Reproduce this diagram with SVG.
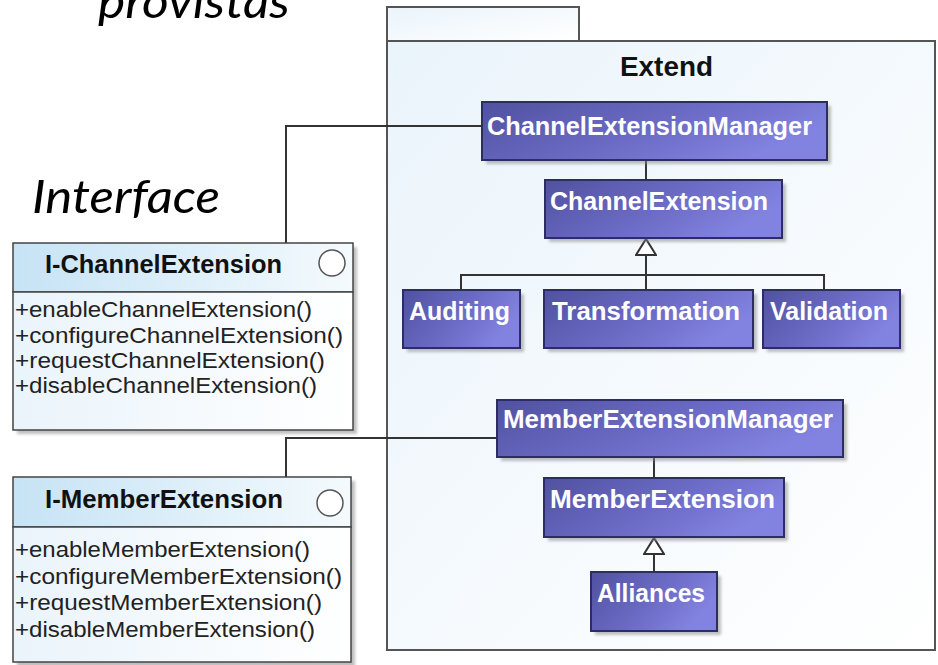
<svg xmlns="http://www.w3.org/2000/svg" width="938" height="665" viewBox="0 0 938 665">
  <defs>
    <linearGradient id="classFill" x1="0" y1="0" x2="1" y2="0.4">
      <stop offset="0" stop-color="#5151a0"/>
      <stop offset="0.55" stop-color="#6a6ac4"/>
      <stop offset="1" stop-color="#8282e0"/>
    </linearGradient>
    <linearGradient id="headFill" x1="0" y1="0" x2="1" y2="0">
      <stop offset="0" stop-color="#c6e3f5"/>
      <stop offset="1" stop-color="#f4fafd"/>
    </linearGradient>
    <linearGradient id="bodyFill" x1="0" y1="0" x2="1" y2="0">
      <stop offset="0" stop-color="#eaf4fb"/>
      <stop offset="1" stop-color="#ffffff"/>
    </linearGradient>
    <linearGradient id="pkgFill" x1="0" y1="0" x2="1" y2="1">
      <stop offset="0" stop-color="#eaf4fb"/>
      <stop offset="1" stop-color="#ffffff"/>
    </linearGradient>
    <filter id="soft" x="-10%" y="-10%" width="130%" height="140%">
      <feGaussianBlur stdDeviation="1.5"/>
    </filter>
    <marker id="gen" markerUnits="userSpaceOnUse" markerWidth="20" markerHeight="22" viewBox="-1 -1 20 22" refX="16" refY="10" orient="auto">
      <path d="M0,0 L16,10 L0,20 Z" fill="#ffffff" stroke="#333333" stroke-width="2"/>
    </marker>
  </defs>
  <style>
    .pkg { fill: url(#pkgFill); stroke: #555555; stroke-width: 2; }
    .shadow { fill: #8a8a8a; opacity: 0.55; filter: url(#soft); }
    .cls { fill: url(#classFill); stroke: #2d2d66; stroke-width: 2; }
    .cname { font-family: "Liberation Sans", Arial, sans-serif; font-weight: bold; font-size: 25px; fill: #ffffff; }
    .ihead { fill: url(#headFill); stroke: #444444; stroke-width: 1.5; }
    .ibody { fill: url(#bodyFill); stroke: #444444; stroke-width: 1.5; }
    .iname { font-family: "Liberation Sans", Arial, sans-serif; font-weight: bold; font-size: 25px; fill: #111111; }
    .op { font-family: "Liberation Sans", Arial, sans-serif; font-size: 22px; fill: #222222; }
    .ball { fill: #ffffff; stroke: #555555; stroke-width: 1.5; }
    .title { font-family: "Liberation Sans", Arial, sans-serif; font-weight: bold; font-size: 27px; fill: #111111; }
    .note { font-family: "Lato", "Open Sans", sans-serif; font-style: italic; font-size: 46px; fill: #000000; }
    .wire { fill: none; stroke: #333333; stroke-width: 2; }
  </style>

  <rect width="938" height="665" fill="#ffffff"/>

  <!-- captions -->
  <text class="note" x="98" y="18" textLength="192" lengthAdjust="spacingAndGlyphs">provistas</text>
  <text class="note" x="32" y="213" textLength="188" lengthAdjust="spacingAndGlyphs">Interface</text>

  <!-- package Extend -->
  <g id="pkg-extend">
    <rect class="pkg" x="387" y="7" width="192" height="34"/>
    <rect class="pkg" x="387" y="41" width="548" height="609"/>
    <text class="title" x="620" y="76" textLength="93" lengthAdjust="spacingAndGlyphs">Extend</text>
  </g>

  <!-- connectors -->
  <g id="connectors">
    <path class="wire" d="M482,126 H286 V243"/>
    <path class="wire" d="M497,438 H286 V477"/>
    <path class="wire" d="M646,160 V180"/>
    <path class="wire" d="M654,457 V478"/>
    <path class="wire" d="M461,290 V275 H824 V290"/>
    <path class="wire" d="M646,290 V239" marker-end="url(#gen)"/>
    <path class="wire" d="M654,572 V538" marker-end="url(#gen)"/>
  </g>

  <!-- classes inside the package -->
  <g id="ChannelExtensionManager">
    <rect class="shadow" x="486" y="106" width="345" height="58"/>
    <rect class="cls" x="482" y="102" width="345" height="58"/>
    <text class="cname" x="487" y="135" textLength="325" lengthAdjust="spacingAndGlyphs">ChannelExtensionManager</text>
  </g>
  <g id="ChannelExtension">
    <rect class="shadow" x="549" y="184" width="237" height="58"/>
    <rect class="cls" x="545" y="180" width="237" height="58"/>
    <text class="cname" x="550" y="210" textLength="218" lengthAdjust="spacingAndGlyphs">ChannelExtension</text>
  </g>
  <g id="Auditing">
    <rect class="shadow" x="407" y="294" width="117" height="58"/>
    <rect class="cls" x="403" y="290" width="117" height="58"/>
    <text class="cname" x="409" y="320" textLength="101" lengthAdjust="spacingAndGlyphs">Auditing</text>
  </g>
  <g id="Transformation">
    <rect class="shadow" x="548" y="294" width="209" height="58"/>
    <rect class="cls" x="544" y="290" width="209" height="58"/>
    <text class="cname" x="552" y="320" textLength="188" lengthAdjust="spacingAndGlyphs">Transformation</text>
  </g>
  <g id="Validation">
    <rect class="shadow" x="767" y="294" width="137" height="58"/>
    <rect class="cls" x="763" y="290" width="137" height="58"/>
    <text class="cname" x="770" y="320" textLength="118" lengthAdjust="spacingAndGlyphs">Validation</text>
  </g>
  <g id="MemberExtensionManager">
    <rect class="shadow" x="501" y="404" width="346" height="57"/>
    <rect class="cls" x="497" y="400" width="346" height="57"/>
    <text class="cname" x="503" y="428" textLength="330" lengthAdjust="spacingAndGlyphs">MemberExtensionManager</text>
  </g>
  <g id="MemberExtension">
    <rect class="shadow" x="548" y="482" width="240" height="59"/>
    <rect class="cls" x="544" y="478" width="240" height="59"/>
    <text class="cname" x="550" y="508" textLength="225" lengthAdjust="spacingAndGlyphs">MemberExtension</text>
  </g>
  <g id="Alliances">
    <rect class="shadow" x="595" y="576" width="126" height="59"/>
    <rect class="cls" x="591" y="572" width="126" height="59"/>
    <text class="cname" x="597" y="602" textLength="108" lengthAdjust="spacingAndGlyphs">Alliances</text>
  </g>

  <!-- interfaces -->
  <g id="I-ChannelExtension">
    <rect class="shadow" x="17" y="247" width="340" height="187"/>
    <rect class="ihead" x="13" y="243" width="340" height="49"/>
    <rect class="ibody" x="13" y="292" width="340" height="138"/>
    <text class="iname" x="45" y="273" textLength="237" lengthAdjust="spacingAndGlyphs">I-ChannelExtension</text>
    <circle class="ball" cx="332" cy="263" r="13"/>
    <text class="op" x="15" y="317" textLength="297" lengthAdjust="spacingAndGlyphs">+enableChannelExtension()</text>
    <text class="op" x="15" y="343" textLength="328" lengthAdjust="spacingAndGlyphs">+configureChannelExtension()</text>
    <text class="op" x="15" y="368" textLength="310" lengthAdjust="spacingAndGlyphs">+requestChannelExtension()</text>
    <text class="op" x="15" y="393" textLength="302" lengthAdjust="spacingAndGlyphs">+disableChannelExtension()</text>
  </g>
  <g id="I-MemberExtension">
    <rect class="shadow" x="17" y="481" width="338" height="186"/>
    <rect class="ihead" x="13" y="477" width="338" height="50"/>
    <rect class="ibody" x="13" y="527" width="338" height="135"/>
    <text class="iname" x="45" y="508" textLength="238" lengthAdjust="spacingAndGlyphs">I-MemberExtension</text>
    <circle class="ball" cx="330" cy="503" r="13"/>
    <text class="op" x="15" y="557" textLength="295" lengthAdjust="spacingAndGlyphs">+enableMemberExtension()</text>
    <text class="op" x="15" y="584" textLength="327" lengthAdjust="spacingAndGlyphs">+configureMemberExtension()</text>
    <text class="op" x="15" y="610" textLength="307" lengthAdjust="spacingAndGlyphs">+requestMemberExtension()</text>
    <text class="op" x="15" y="637" textLength="300" lengthAdjust="spacingAndGlyphs">+disableMemberExtension()</text>
  </g>
</svg>
